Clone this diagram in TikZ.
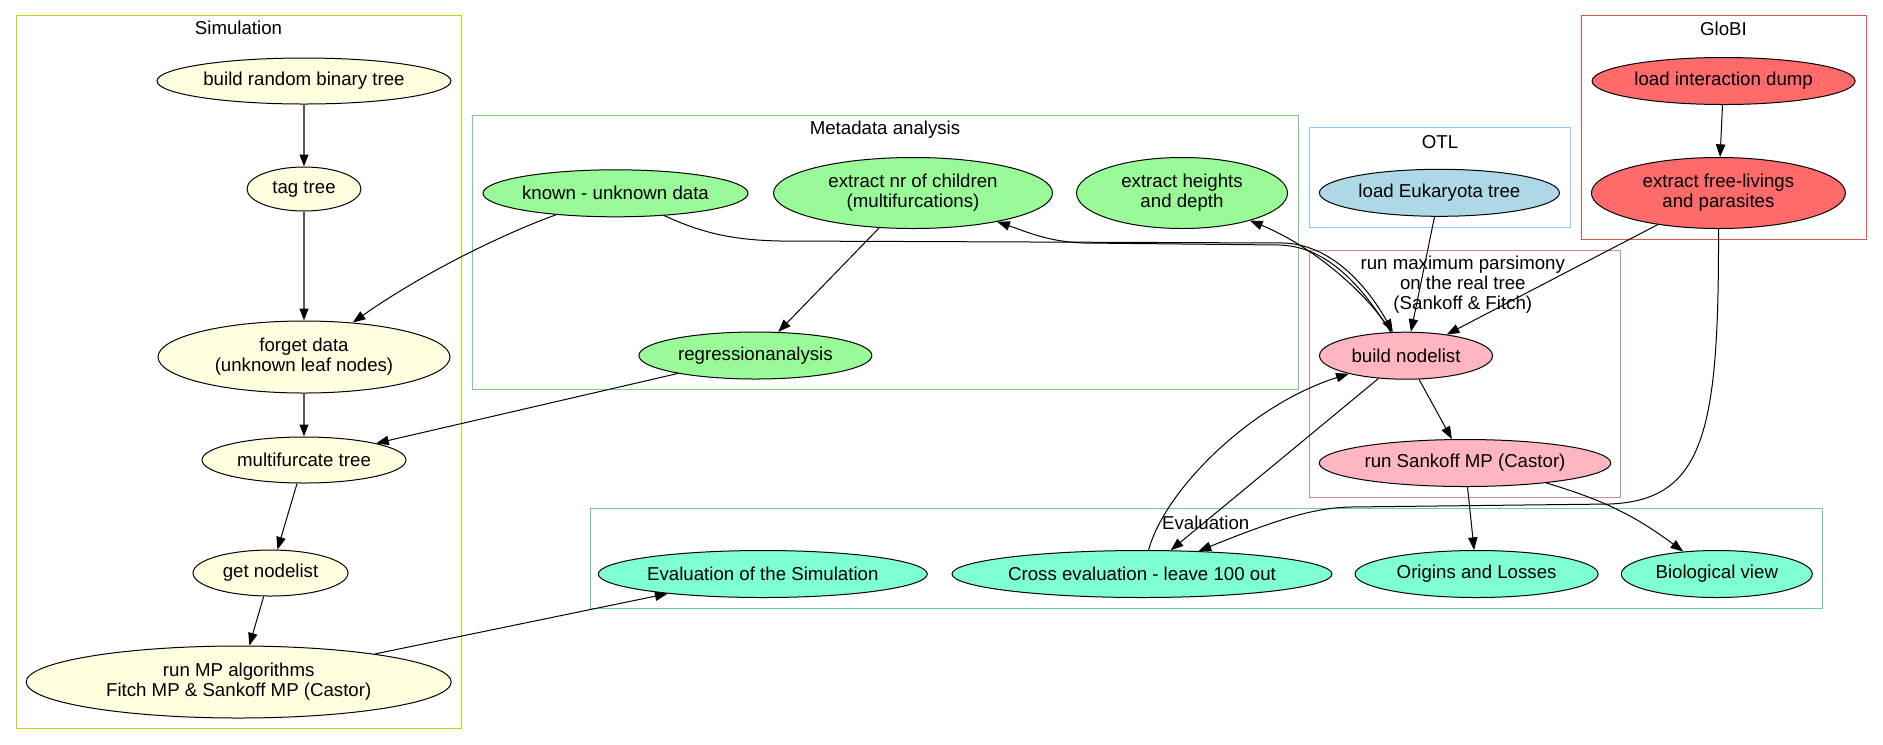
\documentclass[tikz,border=0pt]{standalone}
\usepackage{fontspec}
\setmainfont{Liberation Sans}
\usetikzlibrary{shapes.geometric,arrows.meta}
\definecolor{simfill}{HTML}{FFFFE0}
\definecolor{simline}{HTML}{CDCD00}
\definecolor{metafill}{HTML}{98FB98}
\definecolor{metaline}{HTML}{7CCD7C}
\definecolor{otlfill}{HTML}{ADD8E6}
\definecolor{otlline}{HTML}{87CEFA}
\definecolor{globifill}{HTML}{FF6A6A}
\definecolor{globiline}{HTML}{D9534F}
\definecolor{mpfill}{HTML}{FFB6C1}
\definecolor{mpline}{HTML}{CD8C95}
\definecolor{evalfill}{HTML}{7FFFD4}
\definecolor{evalline}{HTML}{66CDAA}

\begin{document}
\begin{tikzpicture}[x=0.75pt,y=-0.75pt,line width=0.75pt,font=\fontsize{14}{15}\selectfont,
    item/.style={ellipse,draw,inner sep=0pt,align=center},
    sz/.style 2 args={minimum width=#1*0.75pt,minimum height=#2*0.75pt},
    simn/.style={item,fill=simfill}, metan/.style={item,fill=metafill},
    otln/.style={item,fill=otlfill}, globin/.style={item,fill=globifill},
    mpn/.style={item,fill=mpfill}, evaln/.style={item,fill=evalfill},
    ttl/.style={align=center,inner sep=0pt},
    edge/.style={-{Triangle[length=9.5pt,width=7pt]}},
    thk/.style={-{Triangle[length=9pt,width=6.5pt,color=black]},draw=black!65,line width=1.5pt}]
    \useasboundingbox (0,0) rectangle (1883,744);
    % clusters
    \draw[simline] (16,15.6) rectangle (461,728);
    \node[ttl] (simt) at (238.5,27.6) {Simulation};
    \draw[metaline] (472,115.5) rectangle (1298.5,389.5);
    \node[ttl] (metat) at (885,130) {Metadata analysis};
    \draw[otlline] (1309.3,127.7) rectangle (1570.6,227.3);
    \node[ttl] (otlt) at (1440,141.7) {OTL};
    \draw[globiline] (1581,15.7) rectangle (1866.5,239.3);
    \node[ttl] (globit) at (1723.5,29.3) {GloBI};
    \draw[mpline] (1309.3,250) rectangle (1620.8,497.7);
    \node[ttl] (mpt) at (1462.8,285) {run maximum parsimony\\on the real tree\\(Sankoff \& Fitch)};
    \draw[evalline] (590,508.3) rectangle (1822.3,608.3);
    \node[ttl] (evalt) at (1205.7,523.3) {Evaluation};
    % simulation
    \node[simn,sz={294}{46}] (brt) at (304,81) {build random binary tree};
    \node[simn,sz={114}{44}] (tag) at (304,189) {tag tree};
    \node[simn,sz={292}{72}] (forget) at (304,357) {forget data\\(unknown leaf nodes)};
    \node[simn,sz={204}{46}] (multi) at (304,460) {multifurcate tree};
    \node[simn,sz={155}{46}] (getnl) at (270.5,573) {get nodelist};
    \node[simn,sz={425}{72}] (runmp) at (238.7,682) {run MP algorithms\\Fitch MP \& Sankoff MP (Castor)};
    % metadata
    \node[metan,sz={265}{47}] (known) at (615.5,193.3) {known - unknown data};
    \node[metan,sz={279}{71}] (nrch) at (913,193) {extract nr of children\\(multifurcations)};
    \node[metan,sz={211}{71}] (height) at (1182,193) {extract heights\\and depth};
    \node[metan,sz={233}{47}] (regr) at (755.4,355.5) {regressionanalysis};
    % otl, globi
    \node[otln,sz={240}{47}] (euk) at (1439.4,192.8) {load Eukaryota tree};
    \node[globin,sz={263}{47}] (dump) at (1723.6,81) {load interaction dump};
    \node[globin,sz={254}{71}] (free) at (1718.4,193) {extract free-livings\\and parasites};
    % maximum parsimony
    \node[mpn,sz={173}{47}] (bnl) at (1406,355.7) {build nodelist};
    \node[mpn,sz={291.5}{47}] (sank) at (1465,463) {run Sankoff MP (Castor)};
    % evaluation
    \node[evaln,sz={329}{47}] (evsim) at (762.8,574) {Evaluation of the Simulation};
    \node[evaln,sz={380}{47}] (cross) at (1142,574) {Cross evaluation - leave 100 out};
    \node[evaln,sz={243}{47}] (orig) at (1476.6,574) {Origins and Losses};
    \node[evaln,sz={191}{47}] (bio) at (1716.8,574) {Biological view};
    % edges
    \foreach \a/\b in {brt/tag,tag/forget,forget/multi}
    \draw[thk] (\a) -- (\b);
    \foreach \a/\b in {multi/getnl,getnl/runmp,runmp/evsim,nrch/regr,regr/multi,
        euk/bnl,free/bnl,dump/free,bnl/sank,bnl/cross,sank/orig}
    \draw[edge] (\a) -- (\b);
    \draw[edge] (known) .. controls (500,235) and (420,275) .. (forget);
    \draw[edge] (known) .. controls (700,232) and (730,240) .. (780,241) -- (1285,243)
    .. controls (1340,246) and (1375,300) .. (bnl);
    \draw[edge] (bnl) .. controls (1370,300) and (1335,247) .. (1280,245) -- (1085,243)
    .. controls (1050,242) and (1030,233) .. (nrch);
    \draw[edge] (bnl) .. controls (1365,290) and (1310,245) .. (height);
    \draw[edge] (free) .. controls (1719,430) and (1705,500) .. (1610,504) -- (1350,507)
    .. controls (1320,508) and (1290,514) .. (cross);
    \draw[edge] (cross) .. controls (1165,490) and (1250,405) .. (bnl);
    \draw[edge] (sank) to[bend left=10] (bio);
\end{tikzpicture}
\end{document}
